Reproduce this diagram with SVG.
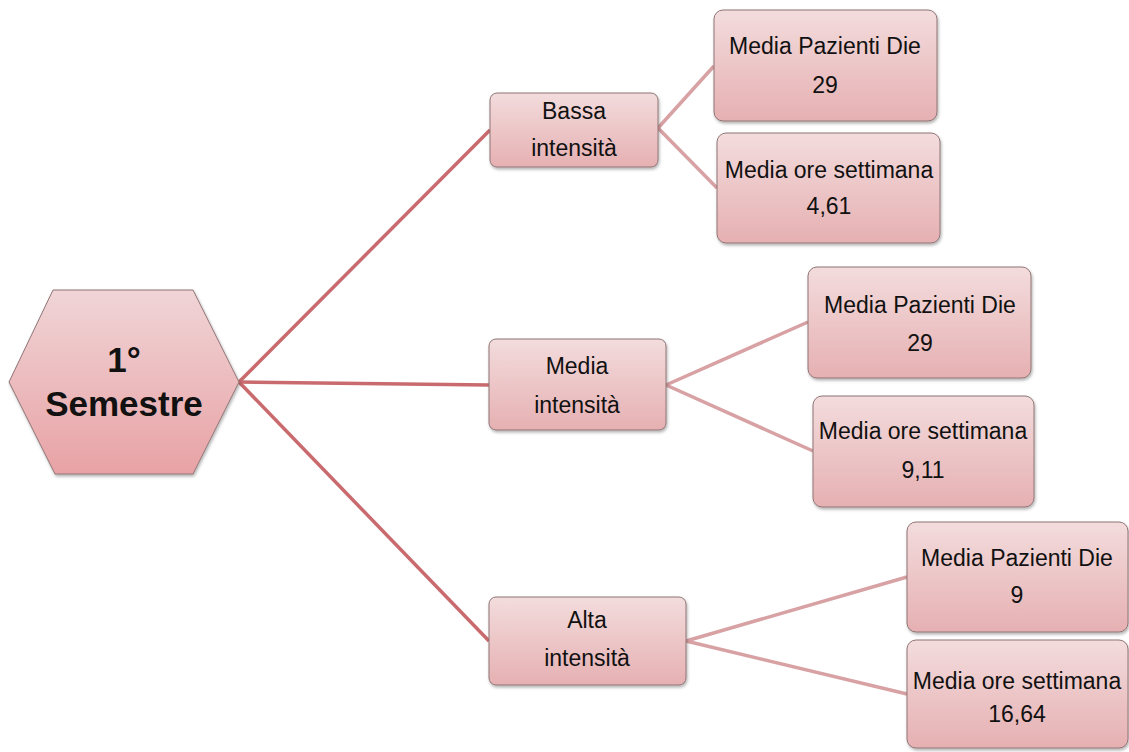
<svg xmlns="http://www.w3.org/2000/svg" width="1129" height="752" viewBox="0 0 1129 752">
<defs>
<linearGradient id="gBox" x1="0" y1="0" x2="0" y2="1">
<stop offset="0" stop-color="#f3dcdd"/>
<stop offset="1" stop-color="#e6b0b2"/>
</linearGradient>
<linearGradient id="gHex" x1="0" y1="0" x2="0" y2="1">
<stop offset="0" stop-color="#f0d5d7"/>
<stop offset="1" stop-color="#e8a2a5"/>
</linearGradient>
<filter id="sh" x="-10%" y="-10%" width="130%" height="130%">
<feDropShadow dx="1" dy="2" stdDeviation="1.5" flood-color="#000" flood-opacity="0.3"/>
</filter>
<style>
.box{fill:url(#gBox);stroke:#8f7475;stroke-width:1;filter:url(#sh)}
.hex{fill:url(#gHex);stroke:#8f7475;stroke-width:1;filter:url(#sh)}
.t{font-family:"Liberation Sans",Arial,sans-serif;font-size:23px;fill:#111;text-anchor:middle}
.h{font-family:"Liberation Sans",Arial,sans-serif;font-size:35px;font-weight:bold;fill:#111;text-anchor:middle}
.c1{stroke:#c96b6e;stroke-width:3.5;fill:none}
.c2{stroke:#d8a1a4;stroke-width:3.5;fill:none}
</style>
</defs>
<rect width="1129" height="752" fill="#fff"/>
<g id="connectors">
<line class="c1" x1="239" y1="382" x2="490" y2="130"/>
<line class="c1" x1="239" y1="382" x2="489" y2="385"/>
<line class="c1" x1="239" y1="382" x2="489" y2="641"/>
<line class="c2" x1="658" y1="128" x2="714" y2="66"/>
<line class="c2" x1="658" y1="128" x2="717" y2="188"/>
<line class="c2" x1="666" y1="385" x2="808" y2="322"/>
<line class="c2" x1="666" y1="385" x2="813" y2="451"/>
<line class="c2" x1="686" y1="641" x2="907" y2="577"/>
<line class="c2" x1="686" y1="641" x2="907" y2="694"/>
</g>
<g id="root">
<polygon class="hex" points="9,382 53,290 193,290 239,382 193,474 55,474"/>
<text class="h" x="124" y="372">1°</text>
<text class="h" x="124" y="416">Semestre</text>
</g>
<g id="bassa">
<rect class="box" x="490" y="93" width="168" height="74" rx="7"/>
<text class="t" x="574" y="119">Bassa</text>
<text class="t" x="574" y="156">intensità</text>
</g>
<g id="media">
<rect class="box" x="489" y="339" width="177" height="91" rx="7"/>
<text class="t" x="577" y="374">Media</text>
<text class="t" x="577" y="413">intensità</text>
</g>
<g id="alta">
<rect class="box" x="489" y="597" width="197" height="88" rx="7"/>
<text class="t" x="587" y="628">Alta</text>
<text class="t" x="587" y="666">intensità</text>
</g>
<g id="bassa-pazienti">
<rect class="box" x="714" y="10" width="223" height="111" rx="9"/>
<text class="t" x="825" y="54">Media Pazienti Die</text>
<text class="t" x="825" y="93">29</text>
</g>
<g id="bassa-ore">
<rect class="box" x="717" y="133" width="223" height="110" rx="9"/>
<text class="t" x="829" y="178">Media ore settimana</text>
<text class="t" x="829" y="214">4,61</text>
</g>
<g id="media-pazienti">
<rect class="box" x="808" y="267" width="223" height="111" rx="9"/>
<text class="t" x="920" y="313">Media Pazienti Die</text>
<text class="t" x="920" y="351">29</text>
</g>
<g id="media-ore">
<rect class="box" x="813" y="396" width="221" height="111" rx="9"/>
<text class="t" x="923" y="439">Media ore settimana</text>
<text class="t" x="923" y="478">9,11</text>
</g>
<g id="alta-pazienti">
<rect class="box" x="907" y="522" width="221" height="110" rx="9"/>
<text class="t" x="1017" y="566">Media Pazienti Die</text>
<text class="t" x="1017" y="603">9</text>
</g>
<g id="alta-ore">
<rect class="box" x="907" y="640" width="221" height="108" rx="9"/>
<text class="t" x="1017" y="689">Media ore settimana</text>
<text class="t" x="1017" y="722">16,64</text>
</g>
</svg>
